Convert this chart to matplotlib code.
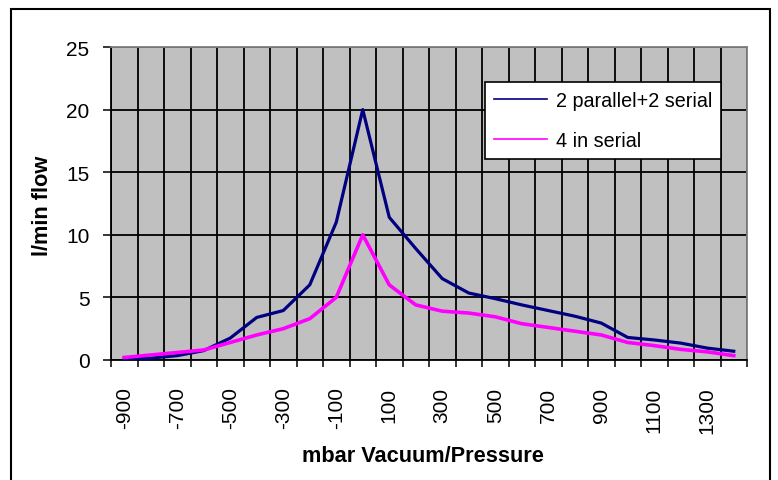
import matplotlib.pyplot as plt
import numpy as np
from matplotlib.lines import Line2D
from matplotlib.patches import Rectangle

# mbar, one category every 100
pressure = [-900, -800, -700, -600, -500, -400, -300, -200, -100, 0, 100, 200,
            300, 400, 500, 600, 700, 800, 900, 1000, 1100, 1200, 1300, 1400]

# l/min flow
parallel_serial = [0.1, 0.15, 0.35, 0.75, 1.75, 3.4, 3.95, 6.0, 11.0, 20.0, 11.4, 8.9,
                   6.5, 5.35, 4.9, 4.4, 3.95, 3.5, 2.95, 1.8, 1.6, 1.35, 0.95, 0.7]
four_serial = [0.2, 0.4, 0.6, 0.8, 1.4, 2.0, 2.5, 3.3, 5.0, 10.0, 6.0, 4.4,
               3.9, 3.75, 3.45, 2.9, 2.6, 2.3, 2.0, 1.4, 1.15, 0.85, 0.65, 0.35]

plt.rcParams['font.family'] = 'Liberation Sans'

fig = plt.figure(figsize=(7.78, 4.81), dpi=100)
ax = fig.add_axes([111 / 778, 1 - 361 / 481, 636 / 778, 313 / 481])
ax.set_facecolor('#C0C0C0')

x = np.arange(len(pressure))
ax.plot(x, parallel_serial, color='#000080', lw=2.3, zorder=3)
ax.plot(x, four_serial, color='#FF00FF', lw=2.6, zorder=3)

ax.set_xlim(-0.5, len(pressure) - 0.5)
ax.set_ylim(0, 25)
ax.set_yticks(range(0, 26, 5))

# labels on every other category, tick marks between categories
ax.set_xticks(x[::2])
ax.set_xticklabels([str(p) for p in pressure[::2]], rotation=90, va='top')
ax.set_xticks(np.arange(-0.5, len(pressure), 1), minor=True)
ax.tick_params(axis='x', which='major', length=0, pad=19, labelsize=15)
ax.tick_params(axis='x', which='minor', length=5, width=1.1, direction='out')
ax.tick_params(axis='y', length=5.5, width=1.1, pad=10, labelsize=15)

ax.grid(axis='x', which='minor', color='black', lw=1.3)
ax.grid(axis='y', which='major', color='black', lw=1.3)
ax.set_axisbelow(True)

for side in ['top', 'right']:
    ax.spines[side].set_color('#808080')
    ax.spines[side].set_linewidth(1.3)
for side in ['left', 'bottom']:
    ax.spines[side].set_color('black')
    ax.spines[side].set_linewidth(1.3)

handles = [Line2D([], [], color='#000080', lw=1.2),
           Line2D([], [], color='#FF00FF', lw=1.2)]
leg = ax.legend(handles, ['2 parallel+2 serial', '4 in serial'],
                loc='upper left', bbox_to_anchor=(0.588, 0.889), borderaxespad=0,
                fontsize=14.2, fancybox=False, framealpha=1, edgecolor='black',
                handlelength=2.7, handletextpad=0.45, labelspacing=1.1,
                borderpad=0.45)
leg.get_frame().set_linewidth(1.2)

fig.text(42 / 778, 1 - 206 / 481, 'l/min flow', rotation=90, ha='center',
         va='center', fontsize=15.7, fontweight='bold')
fig.text(423 / 778, 1 - 457 / 481, 'mbar Vacuum/Pressure', ha='center',
         va='center', fontsize=15.7, fontweight='bold')

# outer chart frame
fig.patches.append(Rectangle((11 / 778, -0.05), 759 / 778, 1.05 - 10 / 481,
                             transform=fig.transFigure, fill=False,
                             edgecolor='black', lw=1.5))

fig.savefig('out.png', dpi=100)
